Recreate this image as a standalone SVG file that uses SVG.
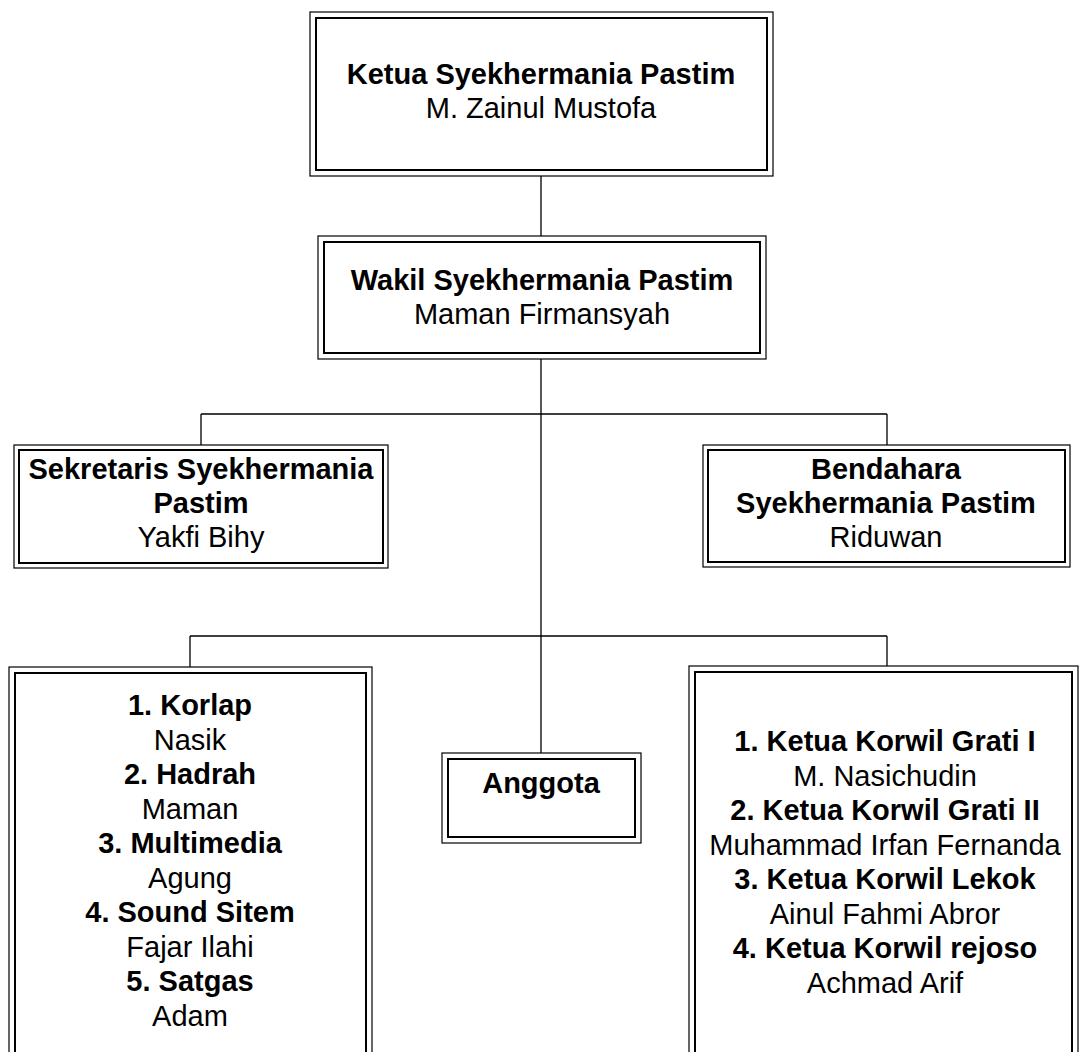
<svg xmlns="http://www.w3.org/2000/svg" width="1081" height="1052" viewBox="0 0 1081 1052">
<style>
.o{fill:none;stroke:#000;stroke-width:1.2}
.i{fill:none;stroke:#000;stroke-width:2}
.c{fill:none;stroke:#000;stroke-width:1.3}
text{font-family:"Liberation Sans",Arial,sans-serif;font-size:29px;fill:#000;text-anchor:middle}
.b{font-weight:bold}
</style>
<rect width="1081" height="1052" fill="#fff"/>
<g id="connectors">
<path class="c" d="M541,176V236M541,359V753M201,414H887M201,414V445M887,414V445M190,636H887M190,636V667M887,636V666"/>
</g>
<g id="ketua">
<rect class="o" x="310" y="12" width="463" height="164"/>
<rect class="i" x="316" y="18" width="451" height="152"/>
<text class="b" x="541" y="84">Ketua Syekhermania Pastim</text>
<text x="541" y="118">M. Zainul Mustofa</text>
</g>
<g id="wakil">
<rect class="o" x="318" y="236" width="448" height="123"/>
<rect class="i" x="324" y="242" width="436" height="111"/>
<text class="b" x="542" y="290">Wakil Syekhermania Pastim</text>
<text x="542" y="324">Maman Firmansyah</text>
</g>
<g id="sekretaris">
<rect class="o" x="14" y="445" width="374" height="123"/>
<rect class="i" x="19" y="450" width="364" height="113"/>
<text class="b" x="201" y="479">Sekretaris Syekhermania</text>
<text class="b" x="201" y="513">Pastim</text>
<text x="201" y="547">Yakfi Bihy</text>
</g>
<g id="bendahara">
<rect class="o" x="703" y="445" width="367" height="122"/>
<rect class="i" x="708" y="450" width="357" height="112"/>
<text class="b" x="886" y="479">Bendahara</text>
<text class="b" x="886" y="513">Syekhermania Pastim</text>
<text x="886" y="547">Riduwan</text>
</g>
<g id="divisi">
<rect class="o" x="9" y="667" width="363" height="400"/>
<rect class="i" x="15" y="673" width="351" height="390"/>
<text class="b" x="190" y="715">1. Korlap</text>
<text x="190" y="749.5">Nasik</text>
<text class="b" x="190" y="784">2. Hadrah</text>
<text x="190" y="818.5">Maman</text>
<text class="b" x="190" y="853">3. Multimedia</text>
<text x="190" y="887.5">Agung</text>
<text class="b" x="190" y="922">4. Sound Sitem</text>
<text x="190" y="956.5">Fajar Ilahi</text>
<text class="b" x="190" y="991">5. Satgas</text>
<text x="190" y="1025.5">Adam</text>
</g>
<g id="anggota">
<rect class="o" x="442" y="753" width="199" height="90"/>
<rect class="i" x="448" y="759" width="187" height="78"/>
<text class="b" x="541" y="793">Anggota</text>
</g>
<g id="korwil">
<rect class="o" x="689" y="666" width="389" height="400"/>
<rect class="i" x="695" y="672" width="377" height="390"/>
<text class="b" x="885" y="751">1. Ketua Korwil Grati I</text>
<text x="885" y="785.5">M. Nasichudin</text>
<text class="b" x="885" y="820">2. Ketua Korwil Grati II</text>
<text x="885" y="854.5">Muhammad Irfan Fernanda</text>
<text class="b" x="885" y="889">3. Ketua Korwil Lekok</text>
<text x="885" y="923.5">Ainul Fahmi Abror</text>
<text class="b" x="885" y="958">4. Ketua Korwil rejoso</text>
<text x="885" y="992.5">Achmad Arif</text>
</g>
</svg>
